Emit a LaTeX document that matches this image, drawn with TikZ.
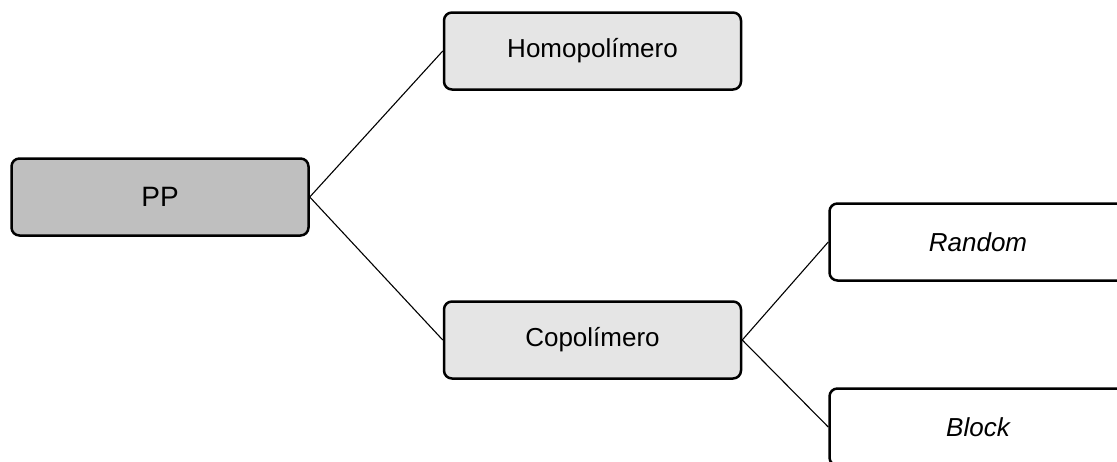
\documentclass[tikz,border=0pt]{standalone}
\usepackage{fontspec}
\setmainfont{Liberation Sans}
\usetikzlibrary{positioning}
\tikzset{
    box/.style={
        draw,
        line width=2.5pt,
        rounded corners=8pt,
        minimum width=297pt,
        minimum height=77pt,
        font=\fontsize{26}{30}\selectfont},
    root/.style={
        box,
        fill=black!25,
        font=\fontsize{28}{32}\selectfont},
    mid/.style={
        box,
        fill=black!10},
    leaf/.style={
        box,
        fill=white,
        font=\fontsize{26}{30}\selectfont\itshape},
    every edge/.style={
        draw,
        line width=1.1pt}}
\begin{document}
\begin{tikzpicture}[x=1pt,y=-1pt]
        \useasboundingbox (0,0) rectangle (1117,461);

        \node[root] (pp) at (160,197) {PP};
        \node[mid] (homo) at (592.5,51) {Homopolímero};
        \node[mid] (copo) at (592.5,340) {Copolímero};
        \node[leaf] (random) at (978,242) {Random};
        \node[leaf] (block) at (978,427) {Block};

        \draw (pp.east) edge (homo.west);
        \draw (pp.east) edge (copo.west);

        \draw (copo.east) edge (random.west);
        \draw (copo.east) edge (block.west);
    \end{tikzpicture}
\end{document}
